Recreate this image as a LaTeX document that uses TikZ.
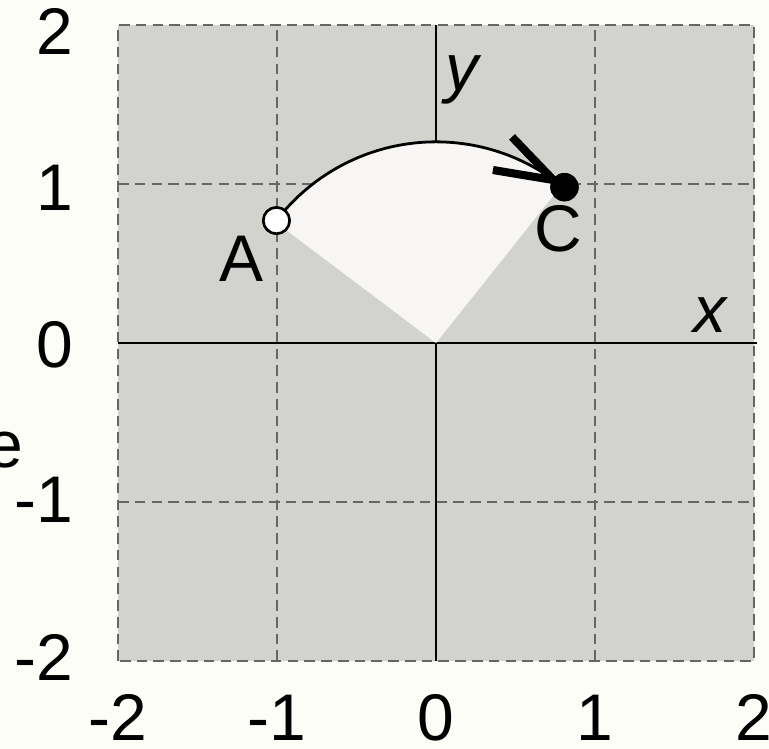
\documentclass[tikz,border=0pt]{standalone}
\usepackage{fontspec}
\setmainfont{Liberation Sans}
\definecolor{bgc}{HTML}{FDFDF8}
\definecolor{plotgrey}{HTML}{D2D3CE}
\definecolor{sectorc}{HTML}{F8F5F5}
\definecolor{gridc}{HTML}{666666}
\begin{document}
\begin{tikzpicture}[x=1cm,y=1cm,
  lab/.style={font=\fontsize{11.8}{14}\selectfont, inner sep=0pt, text=black},
  itlab/.style={inner sep=0pt, text=black, font=\fontsize{11.8}{14}\selectfont\itshape},
  gridline/.style={draw=gridc, line width=0.3pt, dash pattern=on 1.9pt off 1.1pt},
  axisline/.style={black, line width=0.48pt},
  arcline/.style={black, line width=0.5pt},
  openpt/.style={circle, draw=black, fill=white, line width=0.45pt, minimum size=0.165cm, inner sep=0pt},
  closedpt/.style={circle, fill=black, minimum size=0.178cm, inner sep=0pt},
  chevron/.style={black, line width=1.45pt, line join=miter, line cap=butt}]

\fill[bgc] (-2.742,-2.553) rectangle (2.094,2.157);
\useasboundingbox (-2.742,-2.553) rectangle (2.094,2.157);

% plot area
\fill[plotgrey] (-2,-2) rectangle (2,2);
\foreach \v in {-1,1} {
  \draw[gridline] (\v,-2) -- (\v,2);
  \draw[gridline] (-2,\v) -- (2,\v);
}
\draw[gridline] (-2,-2) rectangle (2,2);
\draw[axisline] (-2,0) -- (2.02,0);
\draw[axisline] (0,-2) -- (0,2);

% sector
\coordinate (O) at (0,0);
\fill[sectorc] (O) -- (143:1.27) arc[start angle=143, end angle=51.5, radius=1.27] -- cycle;

% points and arc
\node[openpt] (A) at (142.5:1.265) {};
\node[closedpt] (C) at (50.5:1.27) {};
\draw[arcline] (A.center) arc[start angle=142.5, end angle=50.5, radius=1.265];
\draw[chevron, shift={(C)}] (-0.45,0.108) -- (-0.07,0.045) -- (-0.33,0.316);
\node[closedpt] (Cdot) at (C) {};
\node[openpt] (Adot) at (A) {};

% labels
\node[lab, anchor=base] (Alab) at (-1.223,0.384) {A};
\node[lab, anchor=base] (Clab) at (0.770,0.578) {C};
\node[itlab, anchor=base] (xlab) at (1.723,0.069) {x};
\node[itlab, anchor=base] (ylab) at (0.165,1.585) {y};
\node[lab, anchor=east] (ecut) at (-2.591,-0.673) {e};

% y tick labels
\node[lab, anchor=east] (yt2) at (-2.277,1.962) {2};
\node[lab, anchor=east] (yt1) at (-2.277,0.975) {1};
\node[lab, anchor=east] (yt0) at (-2.277,-0.013) {0};
\node[lab, anchor=east] (ytm1) at (-2.277,-0.987) {-1};
\node[lab, anchor=east] (ytm2) at (-2.277,-1.975) {-2};

% x tick labels
\node[lab] (xtm2) at (-2,-2.358) {-2};
\node[lab] (xtm1) at (-1,-2.358) {-1};
\node[lab] (xt0) at (0,-2.358) {0};
\node[lab] (xt1) at (1,-2.358) {1};
\node[lab] (xt2) at (2,-2.358) {2};
\end{tikzpicture}
\end{document}
